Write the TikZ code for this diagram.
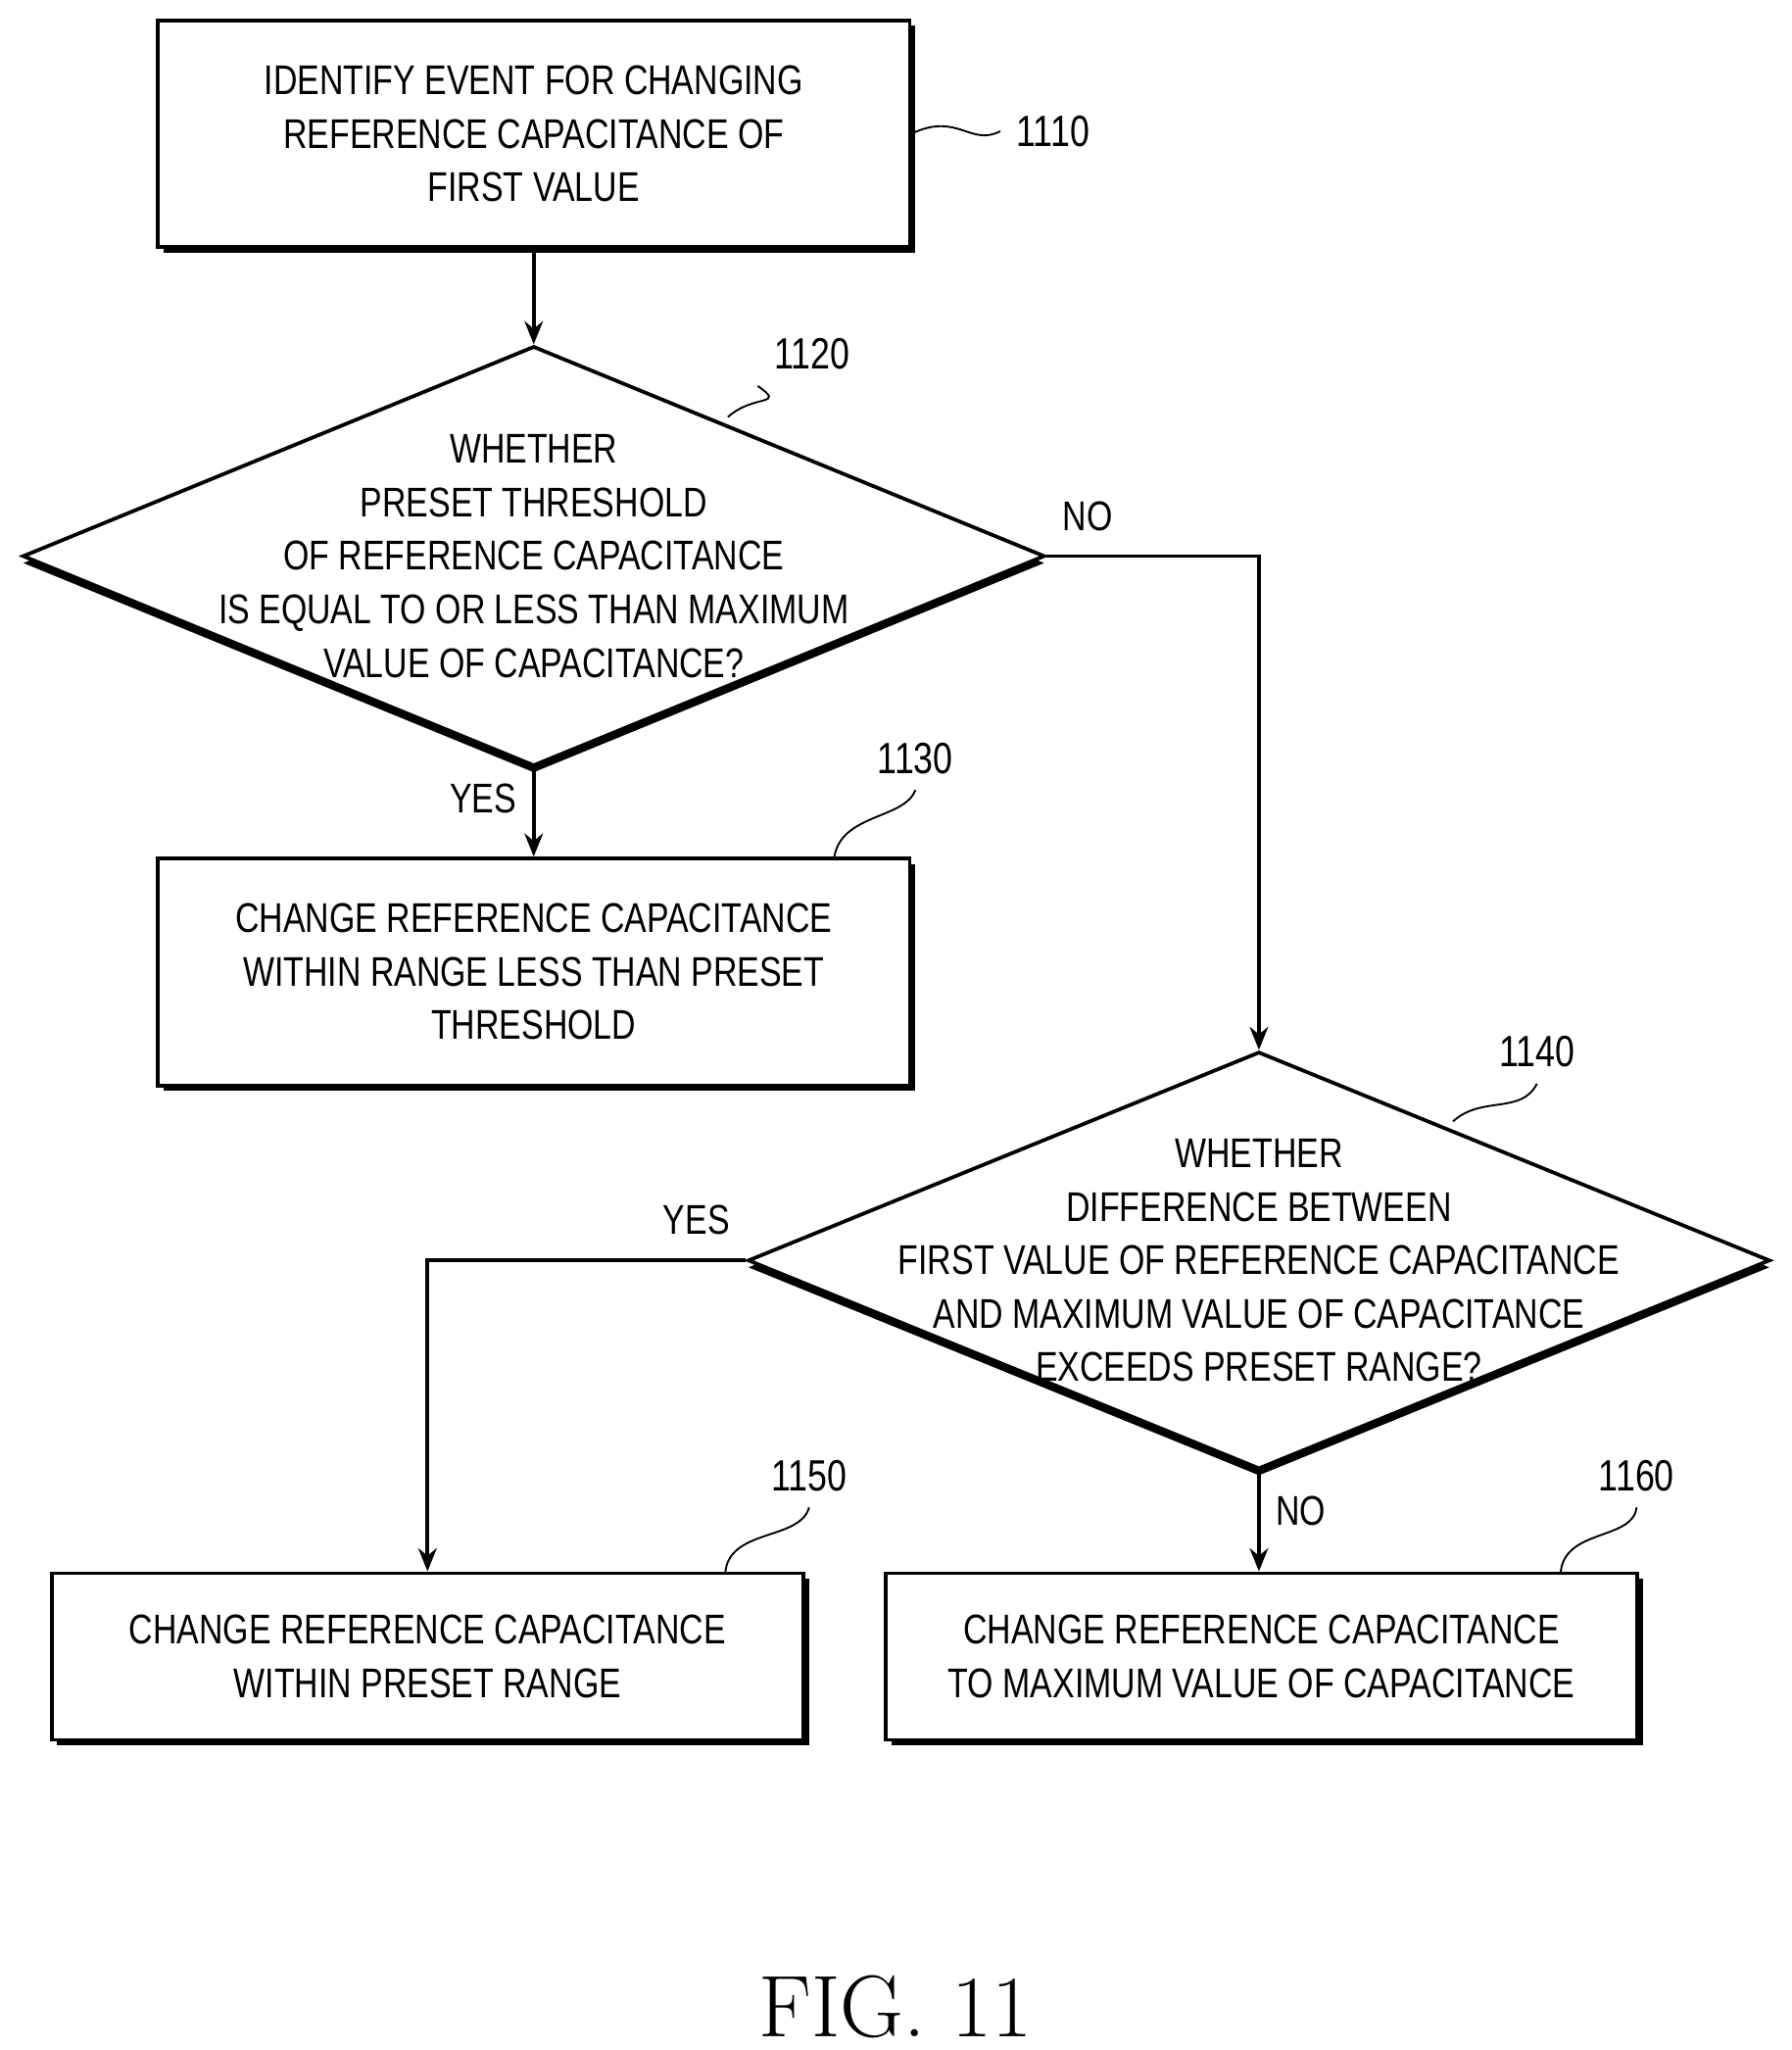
\documentclass[tikz,border=0pt]{standalone}
\usepackage{fontspec}
\setmainfont{Liberation Sans}[FakeStretch=0.8]
\newfontfamily\figfont{Latin Modern Roman}
\usetikzlibrary{arrows.meta,positioning,shapes.geometric,shadows}

\tikzset{
  stepbox/.style={draw, thick, fill=white, minimum width=5.73cm,
    drop shadow={shadow xshift=1.2pt, shadow yshift=-1.2pt, fill=black, opacity=1}},
  decision/.style={draw, thick, diamond, fill=white, inner sep=0pt,
    minimum width=7.79cm, minimum height=3.2cm,
    drop shadow={shadow xshift=0pt, shadow yshift=-1.5pt, fill=black, opacity=1}},
  txt/.style={font=\fontsize{9}{11.6}\selectfont, align=center},
  ref/.style={font=\fontsize{9.5}{11}\selectfont},
  yn/.style={font=\fontsize{9}{11}\selectfont},
  flow/.style={thick, -{Stealth[length=5pt,width=4pt]}},
  lead/.style={thin}
}

\begin{document}
\begin{tikzpicture}[x=0.01cm,y=0.01cm]
  \useasboundingbox (0,0) rectangle (1366,-1563);
  % boxes
  \node[stepbox, minimum height=1.73cm, txt] (s1110) at (407,-102)
    {IDENTIFY EVENT FOR CHANGING\\REFERENCE CAPACITANCE OF\\FIRST VALUE};
  \node[decision] (d1120) at (407,-424) {};
  \node[txt] at (d1120) {WHETHER\\PRESET THRESHOLD\\OF REFERENCE CAPACITANCE\\IS EQUAL TO OR LESS THAN MAXIMUM\\VALUE OF CAPACITANCE?};
  \node[stepbox, minimum height=1.73cm, txt] (s1130) at (407,-741)
    {CHANGE REFERENCE CAPACITANCE\\WITHIN RANGE LESS THAN PRESET\\THRESHOLD};
  \node[decision, minimum height=3.18cm] (d1140) at (960,-961) {};
  \node[txt] at (d1140) {WHETHER\\DIFFERENCE BETWEEN\\FIRST VALUE OF REFERENCE CAPACITANCE\\AND MAXIMUM VALUE OF CAPACITANCE\\EXCEEDS PRESET RANGE?};
  \node[stepbox, minimum height=1.27cm, txt] (s1150) at (326,-1263)
    {CHANGE REFERENCE CAPACITANCE\\WITHIN PRESET RANGE};
  \node[stepbox, minimum height=1.27cm, txt] (s1160) at (962,-1263)
    {CHANGE REFERENCE CAPACITANCE\\TO MAXIMUM VALUE OF CAPACITANCE};
  % flow
  \draw[flow] (s1110) -- (d1120);
  \draw[flow] (d1120.south) -- node[yn, left, pos=0.35] {YES} (s1130);
  \draw[flow] (d1120.east) -| (d1140.north);
  \node[yn, above right=2pt and 0pt of d1120.east] {NO};
  \draw[flow] (d1140.west) -| (s1150.north);
  \node[yn, above left=2pt and 0pt of d1140.west] {YES};
  \draw[flow] (d1140.south) -- node[yn, right, pos=0.4] {NO} (d1140.south |- s1160.north);
  % reference numerals
  \node[ref] (r1110) at (803,-100) {1110};
  \node[ref] (r1120) at (619,-270) {1120};
  \node[ref] (r1130) at (698,-578) {1130};
  \node[ref] (r1140) at (1172,-802) {1140};
  \node[ref] (r1150) at (617,-1125) {1150};
  \node[ref] (r1160) at (1248,-1125) {1160};
  \draw[lead] (s1110.east) .. controls (730,-85) and (740,-112) .. (r1110.west);
  \draw[lead] (555,-318) .. controls (575,-300) and (600,-310) .. (r1120.south west);
  \draw[lead] (636,-655) .. controls (640,-620) and (690,-625) .. (r1130.south);
  \draw[lead] (1108,-855) .. controls (1130,-835) and (1160,-850) .. (r1140.south);
  \draw[lead] (553,-1200) .. controls (555,-1165) and (610,-1175) .. (r1150.south);
  \draw[lead] (1190,-1200) .. controls (1192,-1165) and (1245,-1175) .. (r1160.south);
  \node[font=\figfont\fontsize{19}{22}\selectfont] (fig) at (683,-1530) {FIG. 11};
\end{tikzpicture}
\end{document}
